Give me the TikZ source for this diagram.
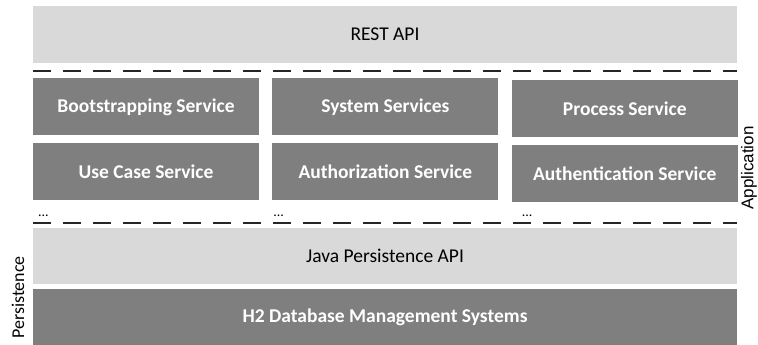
\documentclass[tikz,border=0pt]{standalone}
\usepackage{fontspec}
\setmainfont{Carlito}
\newfontfamily\arialfont{Liberation Sans}
\usetikzlibrary{positioning, calc}
\definecolor{layerlight}{RGB}{217,217,217}
\definecolor{layerdark}{RGB}{127,127,127}

\begin{document}
\begin{tikzpicture}[x=1pt, y=1pt, font=\fontsize{19.5}{22}\selectfont,
          lt/.style ={rectangle, fill=layerlight, text=black, minimum height=57pt, inner sep=0pt},
          dk/.style ={rectangle, fill=layerdark, text=white, font=\fontsize{19.5}{22}\selectfont\bfseries,
                      minimum height=57pt, inner sep=0pt},
          svc/.style={dk, minimum width=226pt},
          wide/.style={minimum width=704pt},
          sep/.style={draw=black!85, line width=1.5pt, dash pattern=on 18pt off 12pt},
          more/.style={font=\fontsize{14}{16}\selectfont, inner sep=0pt, anchor=south west},
          side/.style={rotate=90, inner sep=0pt}]
        \useasboundingbox (0,0) rectangle (758,345);
        \node[lt, wide] (rest) at (385,310.5) {REST API};
        \node[svc, below right=15pt and 0pt of rest.south west] (boot) {Bootstrapping Service};
        \node[svc, right=13pt of boot] (sys) {System Services};
        \node[svc, right=13pt of sys, yshift=-2pt] (proc) {Process Service};
        \node[svc, below=7pt of boot] (usec) {Use Case Service};
        \node[svc, below=7pt of sys] (authz) {Authorization Service};
        \node[svc, below=7pt of proc] (authn) {Authentication Service};
        \node[lt, wide, minimum height=56pt, below right=28pt and 0pt of usec.south west] (jpa) {Java Persistence API};
        \node[dk, wide, below=4pt of jpa] (h2) {H2 Database Management Systems};
        % layer borders
        \coordinate (sepa-w) at ($(rest.south west)+(0,-8pt)$);
        \coordinate (sepa-e) at ($(rest.south east)+(0,-8pt)$);
        \coordinate (sepb-w) at ($(jpa.north west)+(0,5pt)$);
        \coordinate (sepb-e) at ($(jpa.north east)+(0,5pt)$);
        \draw[sep] (sepa-w) -- (sepa-e);
        \draw[sep] (sepb-w) -- (sepb-e);
        \node[more] (more-a) at ($(sepb-w)+(5pt,6pt)$) {...};
        \node[more] (more-b) at ($(authz.south west |- sepb-w)+(1pt,6pt)$) {...};
        \node[more] (more-c) at ($(authn.south west |- sepb-w)+(10pt,6pt)$) {...};
        \node[side, font=\fontsize{18}{20}\selectfont] (pers) at (18,47.5) {Persistence};
        \node[side, font=\arialfont\fontsize{17}{20}\selectfont] (appl) at (749,177) {Application};
      \end{tikzpicture}
\end{document}
